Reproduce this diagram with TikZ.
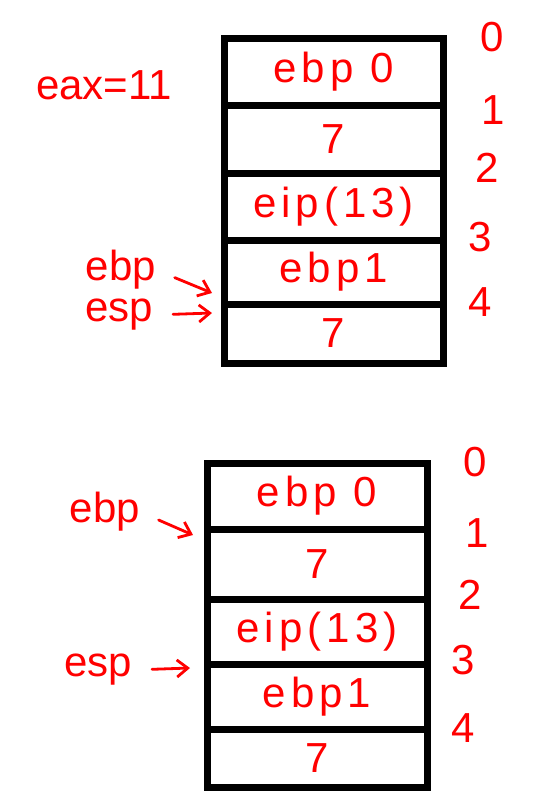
\documentclass[tikz,border=0pt]{standalone}
\usepackage{fontspec}
\setmainfont{Liberation Sans}
\usetikzlibrary{arrows.meta,positioning}

\begin{document}
\begin{tikzpicture}[
    x=1pt, y=-1pt,
    slot/.style={
        rectangle,
        draw=black,
        line width=7pt,
        outer sep=0pt,
        inner sep=0pt,
        minimum width=219pt,
        minimum height=66pt,
        text=red,
        font=\fontsize{42}{46}\selectfont\addfontfeature{LetterSpace=12}
    },
    tag/.style={
        text=red,
        inner sep=0pt,
        font=\fontsize{42}{46}\selectfont
    },
    index/.style={
        text=red,
        inner sep=0pt,
        font=\fontsize{42}{46}\selectfont
    },
    pointer/.style={-{Straight Barb[length=3.8mm, width=6mm]}, red, line width=2.8pt, line cap=round}
]

\useasboundingbox (0,0) rectangle (536,808);

\node[slot] (a1) at (333.5,72) {ebp 0};
\node[slot, below=0pt of a1, minimum height=68pt] (a2) {7};
\node[slot, below=0pt of a2, minimum height=67pt] (a3) {eip(13)};
\node[slot, below=0pt of a3, minimum height=64pt] (a4) {ebp1};
\node[slot, below=0pt of a4, minimum height=59pt] (a5) {7};

\node[index] (i0) at (492,37) {0};
\node[index] (i1) at (493,110) {1};
\node[index] (i2) at (487,168) {2};
\node[index] (i3) at (480,237) {3};
\node[index] (i4) at (480,302) {4};

\node[tag] (eax) at (104,85) {eax=11};
\node[tag] (ebpA) at (121,270) {ebp};
\node[tag] (espA) at (119,315) {esp};

\coordinate (ebpAend) at (212,293);
\coordinate (espAend) at (212,313);

\draw[pointer, shorten <=20pt] (ebpA.east) -- (ebpAend);
\draw[pointer, shorten <=20pt] (espA.east) -- (espAend);

\node[slot, minimum width=220pt] (b1) at (317,496) {ebp 0};
\node[slot, below=0pt of b1, minimum width=220pt, minimum height=70pt] (b2) {7};
\node[slot, below=0pt of b2, minimum width=220pt, minimum height=65pt] (b3) {eip(13)};
\node[slot, below=0pt of b3, minimum width=220pt, minimum height=65pt] (b4) {ebp1};
\node[slot, below=0pt of b4, minimum width=220pt, minimum height=58pt] (b5) {7};

\node[index] (j0) at (475,462) {0};
\node[index] (j1) at (477,533) {1};
\node[index] (j2) at (470,595) {2};
\node[index] (j3) at (463,660) {3};
\node[index] (j4) at (463,728) {4};

\node[tag] (ebpB) at (105,512) {ebp};
\node[tag] (espB) at (98,670) {esp};

\coordinate (ebpBend) at (193,535);
\coordinate (espBend) at (190,668);

\draw[pointer, shorten <=20pt] (ebpB.east) -- (ebpBend);
\draw[pointer, shorten <=20pt] (espB.east) -- (espBend);

\end{tikzpicture}
\end{document}
